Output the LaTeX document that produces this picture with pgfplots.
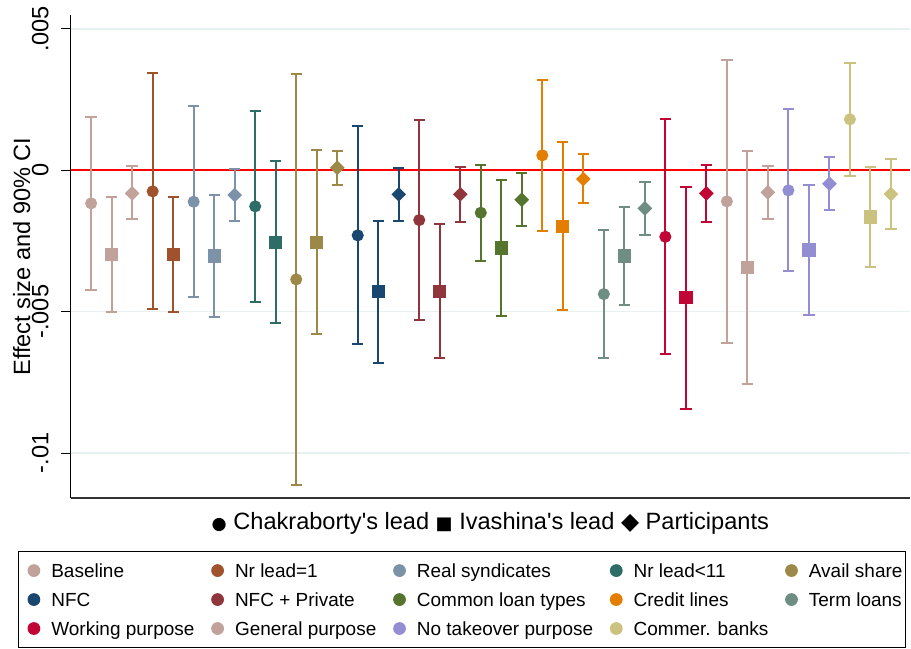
\documentclass[border=0pt]{standalone}
\usepackage{fontspec}
\setmainfont{Liberation Sans}[Ligatures=TeXOff]
\newfontfamily\dejavu{DejaVu Sans}
\usepackage{pgfplots}
\pgfplotsset{compat=1.18}

% group colours
\definecolor{cBase}{RGB}{192,162,155}
\definecolor{cNrOne}{RGB}{160,82,45}
\definecolor{cReal}{RGB}{123,146,168}
\definecolor{cNrEl}{RGB}{45,109,102}
\definecolor{cAvail}{RGB}{156,136,71}
\definecolor{cNFC}{RGB}{26,71,111}
\definecolor{cNFCP}{RGB}{144,53,59}
\definecolor{cCommon}{RGB}{85,117,47}
\definecolor{cCredit}{RGB}{227,126,0}
\definecolor{cTerm}{RGB}{110,142,132}
\definecolor{cWork}{RGB}{193,5,52}
\definecolor{cGen}{RGB}{192,162,155}
\definecolor{cNoT}{RGB}{147,141,210}
\definecolor{cCom}{RGB}{202,194,126}
\definecolor{gridc}{RGB}{232,240,242}

\newcommand\bigfont{\fontsize{17.7pt}{21pt}\selectfont}

% capped confidence bars: a stroke from the estimate to each bound,
% closed by a horizontal cap
\pgfplotsset{
  error bars/draw error bar/.code 2 args={%
    \draw[line width=1.5pt] #1 -- #2 ++(-4.25pt,0pt) -- ++(8.5pt,0pt);},
  cibar/.style={forget plot, only marks, color=#1,
    error bars/y dir=both, error bars/y explicit},
  circ/.style={cibar=#1, mark=*, mark size=3.75pt,
    mark options={draw=#1, fill=#1, line width=1.5pt}},
  sqr/.style={cibar=#1, mark=square*, mark size=4.25pt,
    mark options={draw=#1, fill=#1, line width=1.5pt}},
  dmd/.style={cibar=#1, mark=square*, mark size=3.15pt,
    mark options={draw=#1, fill=#1, line width=1.5pt, rotate=45}},
}

\begin{document}
\begin{tikzpicture}
\begin{scope}[shift={(-53.025pt,374.25pt)}, x=0.75pt, y=-0.75pt]
  \path[use as bounding box] (0,0) rectangle (911,649);
\end{scope}
\begin{axis}[
  at={(0,0)}, anchor=south west,
  scale only axis, width=630.2pt, height=363.2pt,
  xmin=0, xmax=40.93, ymin=-0.011606, ymax=0.005505,
  axis x line=bottom, axis y line=left,
  axis line style={-},
  x axis line style={draw=black!80, line width=1.5pt},
  y axis line style={draw=black, line width=0.75pt},
  xtick=\empty,
  ytick={-0.01,-0.005,0,0.005},
  yticklabels={-.01,-.005,0,.005},
  scaled y ticks=false,
  tick align=outside, major tick length=7.3pt,
  ytick style={draw=black, line width=0.75pt},
  ymajorgrids, grid style={draw=gridc, line width=1.1pt},
  tick label style={font=\bigfont},
  yticklabel style={rotate=90, anchor=south, inner sep=0pt},
  yticklabel shift=9pt,
  ylabel={Effect size and 90\% CI},
  every axis y label/.style={at={(axis description cs:-0.0482,0.5)},
    rotate=90, anchor=base, font=\bigfont, inner sep=0pt},
  xlabel={{\dejavu\fontsize{13pt}{13pt}\selectfont ●} Chakraborty's lead
    {\dejavu\fontsize{13.5pt}{13pt}\selectfont ■} Ivashina's lead
    {\dejavu\fontsize{17.7pt}{17.7pt}\selectfont ◆} Participants},
  every axis x label/.style={at={(axis description cs:0.5,0)},
    anchor=base, yshift=-23.25pt, font=\bigfont, inner sep=0pt},
  legend columns=5,
  legend cell align=left,
  legend image code/.code={\path (-9pt,0pt) (4.4pt,0pt);
    \draw[#1, mark size=4.4pt] plot coordinates {(0pt,0pt)};},
  legend style={at={(axis description cs:-0.0624,-0.1088)},
    anchor=north west, draw=black, line width=0.75pt,
    inner xsep=2pt, inner ysep=7.5pt,
    font=\fontsize{14.25pt}{17pt}\selectfont,
    nodes={inner sep=0pt, text height=12pt, text depth=1.5pt},
    row sep=8.25pt,
    /tikz/every odd column/.append style={column sep=8.3pt},
    /tikz/every even column/.append style={column sep=8pt}},
]
% reference line at zero
\addplot[forget plot, red, line width=1.3pt] coordinates {(0,0) (40.93,0)};

% Baseline
\addplot[circ=cBase] coordinates {(1,-0.001168) += (0,0.003043) -= (0,0.003068)};
\addplot[sqr=cBase]  coordinates {(2,-0.002972) += (0,0.002027) -= (0,0.002042)};
\addplot[dmd=cBase]  coordinates {(3,-0.000814) += (0,0.000956) -= (0,0.000920)};
% Nr lead=1
\addplot[circ=cNrOne] coordinates {(4,-0.000743) += (0,0.004175) -= (0,0.004165)};
\addplot[sqr=cNrOne]  coordinates {(5,-0.002972) += (0,0.002027) -= (0,0.002042)};
% Real syndicates
\addplot[circ=cReal] coordinates {(6,-0.001111) += (0,0.003386) -= (0,0.003383)};
\addplot[sqr=cReal]  coordinates {(7,-0.003033) += (0,0.002170) -= (0,0.002158)};
\addplot[dmd=cReal]  coordinates {(8,-0.000874) += (0,0.000920) -= (0,0.000920)};
% Nr lead<11
\addplot[circ=cNrEl] coordinates {(9,-0.001274) += (0,0.003383) -= (0,0.003376)};
\addplot[sqr=cNrEl]  coordinates {(10,-0.002548) += (0,0.002888) -= (0,0.002845)};
% Avail share
\addplot[circ=cAvail] coordinates {(11,-0.003857) += (0,0.007265) -= (0,0.007268)};
\addplot[sqr=cAvail]  coordinates {(12,-0.002548) += (0,0.003266) -= (0,0.003255)};
\addplot[dmd=cAvail]  coordinates {(13,0.000092) += (0,0.000602) -= (0,0.000612)};
% NFC
\addplot[circ=cNFC] coordinates {(14,-0.002300) += (0,0.003857) -= (0,0.003847)};
\addplot[sqr=cNFC]  coordinates {(15,-0.004282) += (0,0.002499) -= (0,0.002526)};
\addplot[dmd=cNFC]  coordinates {(16,-0.000849) += (0,0.000941) -= (0,0.000945)};
% NFC + Private
\addplot[circ=cNFCP] coordinates {(17,-0.001759) += (0,0.003539) -= (0,0.003538)};
\addplot[sqr=cNFCP]  coordinates {(18,-0.004282) += (0,0.002392) -= (0,0.002360)};
\addplot[dmd=cNFCP]  coordinates {(19,-0.000849) += (0,0.000955) -= (0,0.000970)};
% Common loan types
\addplot[circ=cCommon] coordinates {(20,-0.001500) += (0,0.001698) -= (0,0.001720)};
\addplot[sqr=cCommon]  coordinates {(21,-0.002750) += (0,0.002407) -= (0,0.002406)};
\addplot[dmd=cCommon]  coordinates {(22,-0.001040) += (0,0.000945) -= (0,0.000931)};
% Credit lines
\addplot[circ=cCredit] coordinates {(23,0.000531) += (0,0.002664) -= (0,0.002668)};
\addplot[sqr=cCredit]  coordinates {(24,-0.001982) += (0,0.002983) -= (0,0.002961)};
\addplot[dmd=cCredit]  coordinates {(25,-0.000308) += (0,0.000885) -= (0,0.000849)};
% Term loans
\addplot[circ=cTerm] coordinates {(26,-0.004377) += (0,0.002264) -= (0,0.002276)};
\addplot[sqr=cTerm]  coordinates {(27,-0.003033) += (0,0.001734) -= (0,0.001723)};
\addplot[dmd=cTerm]  coordinates {(28,-0.001345) += (0,0.000931) -= (0,0.000934)};
% Working purpose
\addplot[circ=cWork] coordinates {(29,-0.002350) += (0,0.004155) -= (0,0.004150)};
\addplot[sqr=cWork]  coordinates {(30,-0.004494) += (0,0.003914) -= (0,0.003953)};
\addplot[dmd=cWork]  coordinates {(31,-0.000814) += (0,0.001002) -= (0,0.001005)};
% General purpose
\addplot[circ=cGen] coordinates {(32,-0.001097) += (0,0.005000) -= (0,0.005003)};
\addplot[sqr=cGen]  coordinates {(33,-0.003432) += (0,0.004104) -= (0,0.004141)};
\addplot[dmd=cGen]  coordinates {(34,-0.000778) += (0,0.000941) -= (0,0.000945)};
% No takeover purpose
\addplot[circ=cNoT] coordinates {(35,-0.000708) += (0,0.002877) -= (0,0.002855)};
\addplot[sqr=cNoT]  coordinates {(36,-0.002820) += (0,0.002310) -= (0,0.002300)};
\addplot[dmd=cNoT]  coordinates {(37,-0.000474) += (0,0.000955) -= (0,0.000941)};
% Commercial banks
\addplot[circ=cCom] coordinates {(38,0.001805) += (0,0.002003) -= (0,0.002007)};
\addplot[sqr=cCom]  coordinates {(39,-0.001653) += (0,0.001780) -= (0,0.001769)};
\addplot[dmd=cCom]  coordinates {(40,-0.000839) += (0,0.001249) -= (0,0.001249)};

% group legend
\addlegendimage{mark=*, color=cBase, mark options={fill=cBase}}\addlegendentry{Baseline}
\addlegendimage{mark=*, color=cNrOne, mark options={fill=cNrOne}}\addlegendentry{Nr lead=1}
\addlegendimage{mark=*, color=cReal, mark options={fill=cReal}}\addlegendentry{Real syndicates}
\addlegendimage{mark=*, color=cNrEl, mark options={fill=cNrEl}}\addlegendentry{Nr lead<11}
\addlegendimage{mark=*, color=cAvail, mark options={fill=cAvail}}\addlegendentry{Avail share}
\addlegendimage{mark=*, color=cNFC, mark options={fill=cNFC}}\addlegendentry{NFC}
\addlegendimage{mark=*, color=cNFCP, mark options={fill=cNFCP}}\addlegendentry{NFC + Private}
\addlegendimage{mark=*, color=cCommon, mark options={fill=cCommon}}\addlegendentry{Common loan types}
\addlegendimage{mark=*, color=cCredit, mark options={fill=cCredit}}\addlegendentry{Credit lines}
\addlegendimage{mark=*, color=cTerm, mark options={fill=cTerm}}\addlegendentry{Term loans}
\addlegendimage{mark=*, color=cWork, mark options={fill=cWork}}\addlegendentry{Working purpose}
\addlegendimage{mark=*, color=cGen, mark options={fill=cGen}}\addlegendentry{General purpose}
\addlegendimage{mark=*, color=cNoT, mark options={fill=cNoT}}\addlegendentry{No takeover purpose}
\addlegendimage{mark=*, color=cCom, mark options={fill=cCom}}\addlegendentry{Commer. banks}
\end{axis}
\end{tikzpicture}
\end{document}
